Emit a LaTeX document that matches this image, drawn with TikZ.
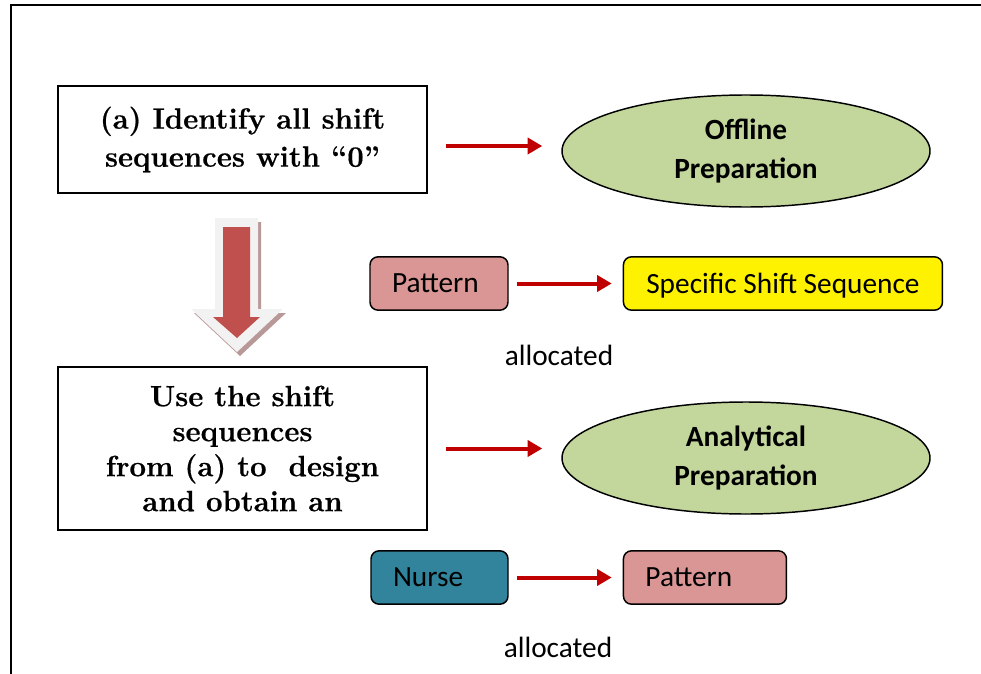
\documentclass[tikz,border=0pt]{standalone}
\usepackage{fontspec}
\setsansfont{Carlito}
\newfontfamily\stepfont{Latin Modern Roman}[BoldFeatures={FakeBold=0.6}]
\usepackage{tikz}
\usetikzlibrary{shapes.geometric, arrows.meta, positioning, calc}
\definecolor{ovalgreen}{RGB}{195, 214, 155}
\definecolor{patternred}{RGB}{217, 150, 148}
\definecolor{nurseblue}{RGB}{49, 132, 155}
\definecolor{linkred}{RGB}{192, 0, 0}
\definecolor{blockred}{RGB}{192, 80, 77}
\definecolor{blockedge}{RGB}{242, 242, 242}
\definecolor{blockshade}{RGB}{185, 152, 152}

\begin{document}
\begin{tikzpicture}[
    x=0.75pt, y=-0.75pt,
    stepbox/.style={draw, line width=1.2pt, fill=white, minimum width=276.75pt, inner sep=0pt, align=center, font=\stepfont\bfseries\fontsize{22}{28.5}\selectfont},
    phase/.style={ellipse, draw, line width=1.1pt, fill=ovalgreen, minimum width=276pt, minimum height=84pt, inner sep=0pt, align=center, font=\sffamily\bfseries\fontsize{22}{29}\selectfont},
    tag/.style={draw, line width=1.1pt, rounded corners=6pt, minimum height=40pt, inner ysep=0pt, inner xsep=16.5pt, text depth=0pt, align=left, font=\sffamily\fontsize{22}{29}\selectfont},
    link/.style={-{Triangle[length=11pt, width=12pt]}, line width=3pt, linkred},
    note/.style={inner sep=0pt, font=\sffamily\fontsize{22}{29}\selectfont}
]
    \useasboundingbox (0,0) rectangle (981,674);

    % Frame
    \draw[line width=1.5pt] (11,674) -- (11,5) -- (981,5);

    % Steps
    \node[stepbox, minimum height=80.25pt] (stepa) at (242.5,139.5) {(a) Identify all shift\\sequences with “0”};
    \node[stepbox, minimum height=122.25pt, font=\stepfont\bfseries\fontsize{22}{26.25}\selectfont] (stepb) at (242.5,448.5) {Use the shift\\sequences\\from (a) to~ design\\and obtain an};

    % Phases
    \node[phase] (offline) at (746,151) {Offline\\Preparation};
    \node[phase] (analytic) at (746,458) {Analytical\\Preparation};

    % Allocations
    \node[tag, fill=patternred, text width=70.5pt] (pattern) at (439,283.5) {Pattern};
    \node[tag, fill=yellow, minimum width=239.25pt, right=85.5pt of pattern] (sequence) {Specific Shift Sequence};
    \node[note] (alloca) at (559,355) {allocated};
    \node[tag, fill=nurseblue, text width=69.75pt] (nurse) at (439.5,577.5) {Nurse};
    \node[tag, fill=patternred, text width=89.25pt, right=85.5pt of nurse] (assigned) {Pattern};
    \node[note] (allocb) at (558,647) {allocated};

    % Block arrow between steps
    \fill[blockshade, shift={(3,4)}] (215,218) -- (258,218) -- (258,309) -- (283,309) -- (237,352) -- (191,309) -- (215,309) -- cycle;
    \fill[blockedge] (215,218) -- (258,218) -- (258,309) -- (283,309) -- (237,352) -- (191,309) -- (215,309) -- cycle;
    \fill[blockred] (223,227) -- (250,227) -- (250,317) -- (260,317) -- (237,338) -- (213,317) -- (223,317) -- cycle;

    % Links
    \draw[link, shorten <=13.5pt, shorten >=14.25pt] ([yshift=-4.875pt]stepa.east) -- ([yshift=-4.875pt]stepa.east -| offline.west);
    \draw[link, shorten <=13.5pt, shorten >=14.25pt] (stepb.east) -- (stepb.east -| analytic.west);
    \draw[link, shorten <=6pt, shorten >=8.25pt] (pattern) -- (sequence);
    \draw[link, shorten <=6pt, shorten >=8.25pt] (nurse) -- (assigned);
\end{tikzpicture}
\end{document}
